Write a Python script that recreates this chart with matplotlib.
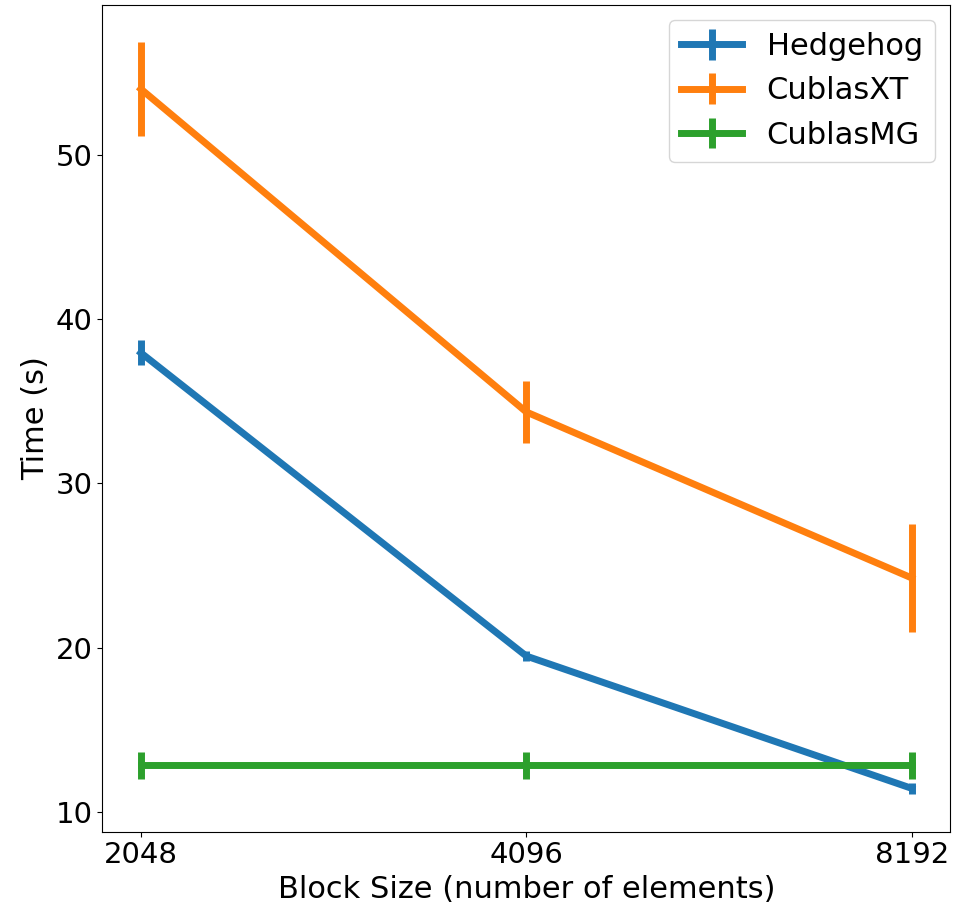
import matplotlib
matplotlib.use('Agg')
import matplotlib.pyplot as plt
import numpy as np

# block sizes on the x axis
block_sizes = ['2048', '4096', '8192']

# mean times and error (s)
hedgehog = [37.95, 19.5, 11.45]
hedgehog_err = [0.75, 0.3, 0.35]
cublasxt = [54.0, 34.35, 24.25]
cublasxt_err = [2.85, 1.9, 3.3]
cublasmg = [12.85, 12.85, 12.85]
cublasmg_err = [0.8, 0.8, 0.8]

fig = plt.figure(figsize=(9.56, 9.07), dpi=100)
ax = fig.add_axes([0.107, 0.083, 0.887, 0.912])

x = np.arange(len(block_sizes))
ax.errorbar(x, hedgehog, yerr=hedgehog_err, label='Hedgehog', color='#1f77b4', linewidth=5, elinewidth=5)
ax.errorbar(x, cublasxt, yerr=cublasxt_err, label='CublasXT', color='#ff7f0e', linewidth=5, elinewidth=5)
ax.errorbar(x, cublasmg, yerr=cublasmg_err, label='CublasMG', color='#2ca02c', linewidth=5, elinewidth=5)

ax.set_xticks(x)
ax.set_xticklabels(block_sizes)
ax.set_yticks([10, 20, 30, 40, 50])
ax.tick_params(labelsize=21)

ax.set_xlabel('Block Size (number of elements)', fontsize=22)
ax.set_ylabel('Time (s)', fontsize=22)

ax.legend(loc='upper right', fontsize=22)

fig.savefig('out.png', dpi=100)
